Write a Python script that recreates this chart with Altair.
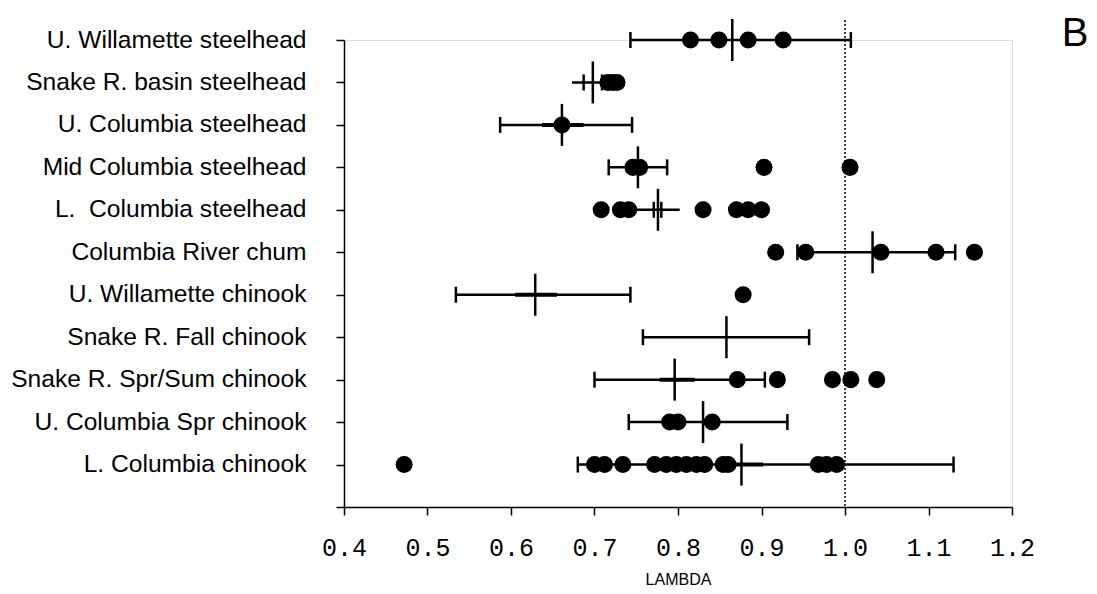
import altair as alt
import pandas as pd

categories = [
    "U. Willamette steelhead",
    "Snake R. basin steelhead",
    "U. Columbia steelhead",
    "Mid Columbia steelhead",
    "L.\u00a0 Columbia steelhead",
    "Columbia River chum",
    "U. Willamette chinook",
    "Snake R. Fall chinook",
    "Snake R. Spr/Sum chinook\u00a0",
    "U. Columbia Spr chinook",
    "L. Columbia chinook",
]
blank = "_"

means = [0.865, 0.698, 0.661, 0.752, 0.776, 1.033, 0.629, 0.858, 0.796, 0.830, 0.876]
ci_lo = [0.743, 0.673, 0.587, 0.717, 0.735, 0.943, 0.534, 0.758, 0.700, 0.741, 0.680]
ci_hi = [1.007, 0.720, 0.745, 0.787, 0.802, 1.132, 0.743, 0.957, 0.904, 0.931, 1.130]
# whisker caps shown (outer), by row
cap_rows = [0, 2, 3, 5, 6, 7, 8, 9, 10]
# inner (SE) segments drawn thicker, by row
se_rows = [2, 6, 8, 10]
se_lo = [0.637, 0.605, 0.778, 0.850]
se_hi = [0.687, 0.655, 0.820, 0.902]
# inner small caps, by row
inner_cap_rows = [1, 1, 4, 4]
inner_cap_x = [0.687, 0.709, 0.771, 0.780]

points = {
    0: [0.815, 0.849, 0.884, 0.926],
    1: [0.716, 0.722, 0.727],
    2: [0.661],
    3: [0.746, 0.754, 0.903, 1.006],
    4: [0.708, 0.731, 0.741, 0.830, 0.870, 0.884, 0.900],
    5: [0.917, 0.953, 1.043, 1.109, 1.155],
    6: [0.878],
    7: [],
    8: [0.871, 0.919, 0.985, 1.007, 1.038],
    9: [0.790, 0.800, 0.841],
    10: [0.472, 0.700, 0.712, 0.734, 0.772, 0.786, 0.798, 0.810, 0.822,
         0.832, 0.854, 0.860, 0.968, 0.978, 0.990],
}
x_ticks = [0.4, 0.5, 0.6, 0.7, 0.8, 0.9, 1.0, 1.1, 1.2]
ref_value = 1.0

W, H = 668, 467

bars = pd.DataFrame({"cat": categories, "lo": ci_lo, "hi": ci_hi, "mean": means})
caps = pd.DataFrame(
    [{"cat": categories[i], "x": v} for i in cap_rows for v in (ci_lo[i], ci_hi[i])]
)
se = pd.DataFrame({"cat": [categories[i] for i in se_rows], "lo": se_lo, "hi": se_hi})
icaps = pd.DataFrame({"cat": [categories[i] for i in inner_cap_rows], "x": inner_cap_x})
pts = pd.DataFrame([{"cat": categories[i], "x": v} for i, vs in points.items() for v in vs])

xs = alt.Scale(domain=[0.4, 1.2], nice=False, zero=False)
ys = alt.Scale(type="point", domain=categories + [blank], padding=0)

x_axis = alt.Axis(
    values=x_ticks, format=".1f", title="LAMBDA", grid=False,
    labelFont="Liberation Mono", labelFontSize=25, labelColor="black",
    labelPadding=20, tickSize=8, tickColor="black", domainColor="black",
    tickWidth=1.5, domainWidth=1.5, labelFlush=False, labelOverlap=False,
    titleFont="Liberation Sans", titleFontSize=16, titleFontWeight="normal",
    titleColor="black", titlePadding=11,
)
y_axis = alt.Axis(
    title=None, grid=False, labelExpr=f"datum.value == '{blank}' ? '' : datum.value",
    labelFont="Liberation Sans", labelFontSize=24.6, labelColor="black",
    labelPadding=30, tickSize=8, tickColor="black", domainColor="black",
    tickWidth=1.5, domainWidth=1.5, labelLimit=500, labelOverlap=False,
)

base_x = alt.X("lo:Q", scale=xs, axis=x_axis)
base_y = alt.Y("cat:N", scale=ys, axis=y_axis)

ci_rule = alt.Chart(bars).mark_rule(color="black", strokeWidth=2.5).encode(
    x=base_x, x2="hi:Q", y=base_y
)
se_rule = alt.Chart(se).mark_rule(color="black", strokeWidth=4).encode(
    x=alt.X("lo:Q", scale=xs), x2="hi:Q", y=alt.Y("cat:N", scale=ys)
)
cap_ticks = alt.Chart(caps).mark_tick(
    color="black", orient="vertical", size=16, thickness=2.5, opacity=1
).encode(x=alt.X("x:Q", scale=xs), y=alt.Y("cat:N", scale=ys))
icap_ticks = alt.Chart(icaps).mark_tick(
    color="black", orient="vertical", size=16, thickness=2.5, opacity=1
).encode(x=alt.X("x:Q", scale=xs), y=alt.Y("cat:N", scale=ys))
mean_ticks = alt.Chart(bars).mark_tick(
    color="black", orient="vertical", size=42, thickness=2.5, opacity=1
).encode(x=alt.X("mean:Q", scale=xs), y=alt.Y("cat:N", scale=ys))
dots = alt.Chart(pts).mark_point(
    filled=True, color="black", opacity=1, size=290, shape="circle"
).encode(x=alt.X("x:Q", scale=xs), y=alt.Y("cat:N", scale=ys))

ref = alt.Chart(pd.DataFrame({"x": [ref_value]})).mark_rule(
    color="black", strokeWidth=1.5, strokeDash=[2, 2]
).encode(x=alt.X("x:Q", scale=xs), y=alt.value(-20), y2=alt.value(H))

label_b = alt.Chart(pd.DataFrame({"t": ["B"]})).mark_text(
    font="Liberation Sans", fontSize=40, color="black", align="center", baseline="middle"
).encode(text="t:N", x=alt.value(731), y=alt.value(-6))

chart = alt.layer(
    ci_rule, se_rule, cap_ticks, icap_ticks, mean_ticks, dots, ref, label_b
).properties(
    width=W, height=H,
    autosize=alt.AutoSizeParams(type="none"),
    padding={"left": 336, "top": 32, "right": 77, "bottom": 79},
).configure_view(stroke=None).configure(background="white")

chart.save("out.html", embed_options={"renderer": "svg", "actions": False})
